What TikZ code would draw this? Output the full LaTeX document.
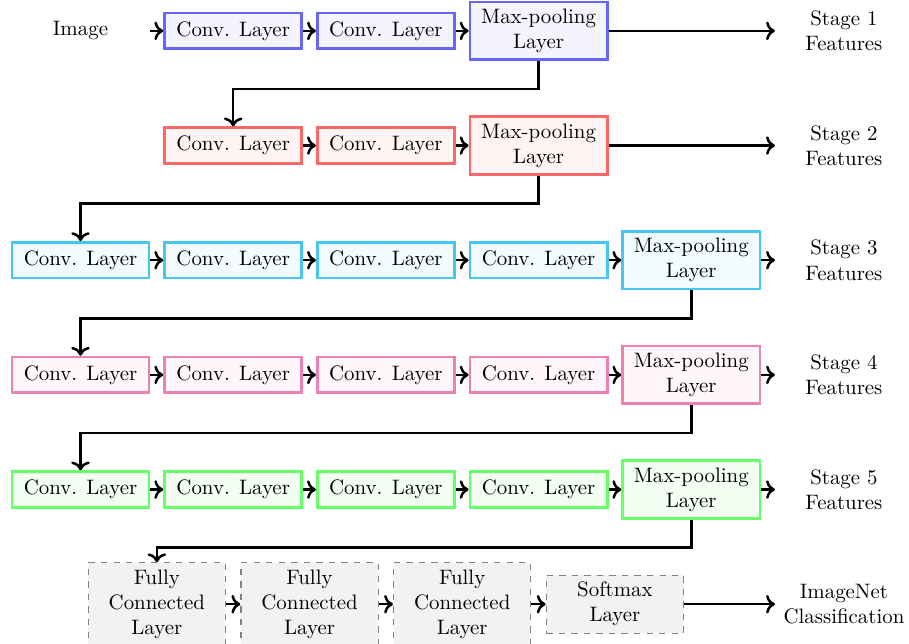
\documentclass[tikz,border=0pt]{standalone}
\usepackage{xcolor}
\usepackage{tikz}
\usetikzlibrary{arrows.meta, positioning, calc}

\definecolor{stageA}{RGB}{102,102,255}
\definecolor{stageB}{RGB}{255,102,102}
\definecolor{stageC}{RGB}{70,198,240}
\definecolor{stageD}{RGB}{238,128,178}
\definecolor{stageE}{RGB}{102,255,102}
\definecolor{stageF}{RGB}{130,130,130}

\begin{document}
\begin{tikzpicture}[
    layer/.style={draw=#1, fill=#1!7, line width=1.3pt, minimum width=2.31cm,
      minimum height=0.6cm, align=center, inner sep=3.33pt},
    fclayer/.style={draw=stageF, fill=gray!10, semithick, dashed, minimum width=2.31cm,
      align=center},
    outlabel/.style={minimum width=2.31cm, align=center},
    flow/.style={->, line width=1.2pt},
  ]
  \useasboundingbox (0,0) rectangle (15.30,-10.825);
  % row 1
  \node[outlabel] (img) at (1.355,-0.52) {Image};
  \node[layer=stageA] (a1) at (3.925,-0.52) {Conv. Layer};
  \node[layer=stageA] (a2) at (6.495,-0.52) {Conv. Layer};
  \node[layer=stageA] (ap) at (9.065,-0.52) {Max-pooling\\Layer};
  \node[outlabel] (ao) at (14.205,-0.52) {Stage 1\\Features};
  % row 2
  \node[layer=stageB] (b1) at (3.925,-2.45) {Conv. Layer};
  \node[layer=stageB] (b2) at (6.495,-2.45) {Conv. Layer};
  \node[layer=stageB] (bp) at (9.065,-2.45) {Max-pooling\\Layer};
  \node[outlabel] (bo) at (14.205,-2.45) {Stage 2\\Features};
  % rows 3 to 5
  \foreach \r/\c/\y/\n in {c/stageC/-4.38/3, d/stageD/-6.31/4, e/stageE/-8.24/5} {
    \foreach \i/\x in {1/1.355, 2/3.925, 3/6.495, 4/9.065}
      \node[layer=\c] (\r\i) at (\x,\y) {Conv. Layer};
    \node[layer=\c] (\r p) at (11.635,\y) {Max-pooling\\Layer};
    \node[outlabel] (\r o) at (14.205,\y) {Stage \n\\Features};
  }
  % row 6
  \node[fclayer] (f1) at (2.64,-10.17) {Fully\\Connected\\Layer};
  \node[fclayer] (f2) at (5.21,-10.17) {Fully\\Connected\\Layer};
  \node[fclayer] (f3) at (7.78,-10.17) {Fully\\Connected\\Layer};
  \node[fclayer, minimum height=0.95cm] (fs) at (10.35,-10.17) {Softmax\\Layer};
  \node[outlabel] (fo) at (14.205,-10.17) {ImageNet\\Classification};

  % arrows along rows
  \draw[flow] (img) -- (a1);
  \draw[flow] (a1) -- (a2);
  \draw[flow] (a2) -- (ap);
  \draw[flow] (ap) -- (ao);
  \draw[flow] (b1) -- (b2);
  \draw[flow] (b2) -- (bp);
  \draw[flow] (bp) -- (bo);
  \foreach \r in {c,d,e} {
    \draw[flow] (\r1) -- (\r2);
    \draw[flow] (\r2) -- (\r3);
    \draw[flow] (\r3) -- (\r4);
    \draw[flow] (\r4) -- (\r p);
    \draw[flow] (\r p) -- (\r o);
  }
  \draw[flow] (f1) -- (f2);
  \draw[flow] (f2) -- (f3);
  \draw[flow] (f3) -- (fs);
  \draw[flow] (fs) -- (fo);

  % arrows between rows
  \draw[flow] (ap.south) -- ++(0,-0.47) -| (b1.north);
  \draw[flow] (bp.south) -- ++(0,-0.47) -| (c1.north);
  \draw[flow] (cp.south) -- ++(0,-0.47) -| (d1.north);
  \draw[flow] (dp.south) -- ++(0,-0.47) -| (e1.north);
  \draw[flow] (ep.south) -- ++(0,-0.47) -| (f1.north);
\end{tikzpicture}
\end{document}
